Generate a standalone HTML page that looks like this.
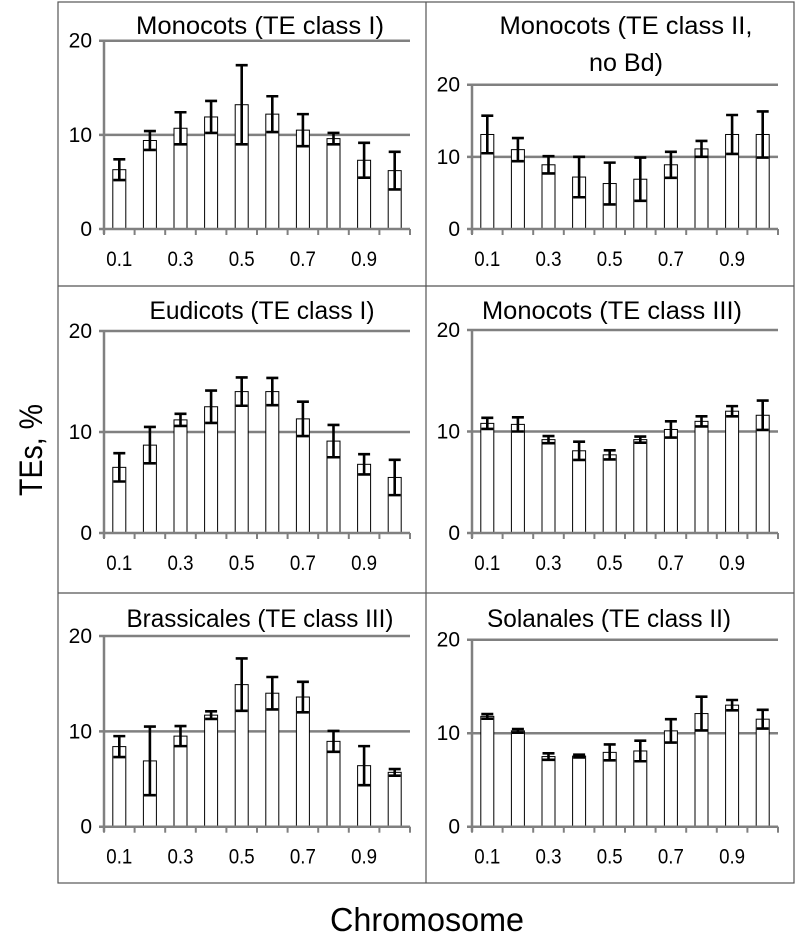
<!DOCTYPE html>
<html><head><meta charset="utf-8"><style>
html,body{margin:0;padding:0;background:#fff;}
svg{display:block;font-family:"Liberation Sans",sans-serif;}
</style></head><body>
<svg id="chart" width="796" height="932" viewBox="0 0 796 932" xmlns="http://www.w3.org/2000/svg">
<rect x="58" y="2" width="736" height="881" fill="none" stroke="#555" stroke-width="1.2"/>
<line x1="426" y1="2" x2="426" y2="883" stroke="#555" stroke-width="1.2"/>
<line x1="58" y1="286" x2="794" y2="286" stroke="#555" stroke-width="1.2"/>
<line x1="58" y1="593" x2="794" y2="593" stroke="#555" stroke-width="1.2"/>
<text x="427" y="931" font-size="33" text-anchor="middle" textLength="194" lengthAdjust="spacingAndGlyphs">Chromosome</text>
<text transform="translate(42,450) rotate(-90)" font-size="32" text-anchor="middle" textLength="92" lengthAdjust="spacingAndGlyphs">TEs, %</text>
<g id="panels"></g>
</svg>
<script>
const tickLabels = ["0.1","0.3","0.5","0.7","0.9"];
const yTicks = [0,10,20];
const monoIVal = [6.3,9.4,10.7,11.9,13.2,12.2,10.5,9.6,7.3,6.2];
const monoIErr = [1.1,1.0,1.7,1.7,4.2,1.9,1.7,0.6,1.85,2.0];
const monoIIVal = [13.1,11.0,8.9,7.2,6.3,6.9,8.9,11.1,13.1,13.1];
const monoIIErr = [2.6,1.6,1.2,2.8,2.9,3.0,1.8,1.1,2.7,3.2];
const eudIVal = [6.5,8.7,11.2,12.5,14.0,14.0,11.3,9.1,6.8,5.5];
const eudIErr = [1.4,1.8,0.6,1.6,1.4,1.35,1.7,1.6,1.0,1.75];
const monoIIIVal = [10.8,10.7,9.2,8.1,7.7,9.2,10.2,11.0,12.0,11.6];
const monoIIIErr = [0.55,0.7,0.35,0.9,0.45,0.3,0.8,0.5,0.5,1.45];
const brasIIIVal = [8.4,6.9,9.5,11.7,14.9,14.0,13.6,8.95,6.4,5.7];
const brasIIIErr = [1.1,3.6,1.05,0.4,2.75,1.7,1.6,1.1,2.05,0.35];
const solIIVal = [11.8,10.25,7.5,7.55,7.95,8.1,10.25,12.1,13.0,11.5];
const solIIErr = [0.25,0.2,0.35,0.15,0.85,1.1,1.25,1.8,0.55,1.0];

const NS = "http://www.w3.org/2000/svg";
const root = document.getElementById("panels");
function mk(tag, attrs, parent){const e=document.createElementNS(NS,tag);for(const k in attrs)e.setAttribute(k,attrs[k]);parent.appendChild(e);return e;}

const panels = [
 {name:"monocots-class-i", title:["Monocots (TE class I)"], tw:[248], tx:260, ty:[34], x0:104, x1:410, y0:229, y20:40.7, vals:monoIVal, errs:monoIErr},
 {name:"monocots-class-ii", title:["Monocots (TE class II,","no Bd)"], tw:[253,74], tx:626, ty:[34,71], x0:472, x1:778, y0:229, y20:84.7, vals:monoIIVal, errs:monoIIErr},
 {name:"eudicots-class-i", title:["Eudicots (TE class I)"], tw:[225], tx:262, ty:[319], x0:104, x1:410, y0:533, y20:331, vals:eudIVal, errs:eudIErr},
 {name:"monocots-class-iii", title:["Monocots (TE class III)"], tw:[260], tx:612, ty:[319], x0:472, x1:778, y0:533, y20:330, vals:monoIIIVal, errs:monoIIIErr},
 {name:"brassicales-class-iii", title:["Brassicales (TE class III)"], tw:[267], tx:260, ty:[627], x0:104, x1:410, y0:826.7, y20:636, vals:brasIIIVal, errs:brasIIIErr},
 {name:"solanales-class-ii", title:["Solanales (TE class II)"], tw:[244], tx:609, ty:[627], x0:472, x1:778, y0:826.7, y20:639.7, vals:solIIVal, errs:solIIErr}
];

panels.forEach(p=>{
  const g = mk("g",{},root);
  
  
  const yS = v => p.y0 - (p.y0 - p.y20) * v / 20;
  const n = p.vals.length;
  const slot = (p.x1 - p.x0) / n;
  const xC = i => p.x0 + slot * (i + 0.5);
  p.title.forEach((t,k)=>{
    const tt = mk("text",{x:p.tx,y:p.ty[k],"font-size":25,"text-anchor":"middle",textLength:p.tw[k],lengthAdjust:"spacingAndGlyphs"},g);
    tt.textContent = t;
    
    
  });
  yTicks.forEach(v=>{
    const y = yS(v);
    if(v>0){
      const gl = mk("line",{x1:p.x0-5,y1:y,x2:p.x1,y2:y,stroke:"#808080","stroke-width":2.5},g);
      
      
    }
    const lb = mk("text",{x:p.x0-12,y:y+7,"font-size":21,"text-anchor":"end",fill:"#000"},g);
    lb.textContent = String(v);
    
    
  });
  const ya = mk("line",{x1:p.x0,y1:p.y20,x2:p.x0,y2:p.y0+5,stroke:"#808080","stroke-width":2.5},g);
  
  
  for(let i=0;i<n;i++){
    const v = p.vals[i], e = p.errs[i], cx = xC(i);
    const b = mk("rect",{x:cx-6.5,y:yS(v),width:13,height:p.y0-yS(v),fill:"#fff",stroke:"#000","stroke-width":1},g);
    
    
    const eb = mk("path",{d:`M${cx},${yS(v-e)}V${yS(v+e)}M${cx-6},${yS(v+e)}H${cx+6}M${cx-6},${yS(v-e)}H${cx+6}`,stroke:"#000","stroke-width":2.6,fill:"none"},g);
    
    
  }
  const xa = mk("line",{x1:p.x0-5,y1:p.y0,x2:p.x1,y2:p.y0,stroke:"#808080","stroke-width":2.5},g);
  
  
  for(let i=0;i<=n;i++){
    const x = p.x0 + slot*i;
    const tk = mk("line",{x1:x,y1:p.y0,x2:x,y2:p.y0+6,stroke:"#808080","stroke-width":2},g);
    
    
  }
  tickLabels.forEach((t,k)=>{
    const lb = mk("text",{x:xC(k*2),y:p.y0+37,"font-size":21,"text-anchor":"middle",textLength:26,lengthAdjust:"spacingAndGlyphs"},g);
    lb.textContent = t;
    
    
  });
});
</script>
</body></html>
